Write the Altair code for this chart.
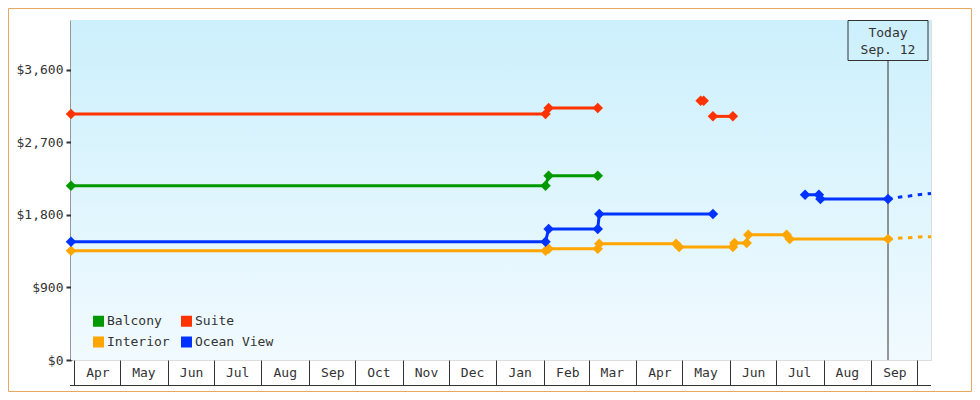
import altair as alt
import pandas as pd

FONT = "DejaVu Sans Mono"
INK = "#333333"

cabins = ["Balcony", "Suite", "Interior", "Ocean View"]
cabin_colors = ["#009900", "#ff3300", "#ffa500", "#0033ff"]

# Observed prices (segment ids break the line where data is missing)
suite_dates = ["2023-03-30", "2024-02-02", "2024-02-04", "2024-03-07",
               "2024-05-13", "2024-05-15", "2024-05-21", "2024-06-03"]
suite_prices = [3054, 3054, 3128, 3128, 3219, 3219, 3024, 3024]
suite_segments = [1, 1, 1, 1, 2, 2, 3, 3]

balcony_dates = ["2023-03-30", "2024-02-02", "2024-02-04", "2024-03-07"]
balcony_prices = [2162, 2162, 2288, 2288]
balcony_segments = [1, 1, 1, 1]

ocean_dates = ["2023-03-30", "2024-02-02", "2024-02-04", "2024-03-07", "2024-03-08", "2024-05-21",
               "2024-07-20", "2024-07-29", "2024-07-30", "2024-09-12"]
ocean_prices = [1469, 1469, 1626, 1626, 1812, 1812, 2052, 2052, 1999, 1999]
ocean_segments = [1, 1, 1, 1, 1, 1, 2, 2, 2, 2]

interior_dates = ["2023-03-30", "2024-02-02", "2024-02-04", "2024-03-07", "2024-03-08",
                  "2024-04-27", "2024-04-29", "2024-06-03", "2024-06-04", "2024-06-12",
                  "2024-06-13", "2024-07-08", "2024-07-10", "2024-09-12"]
interior_prices = [1357, 1357, 1382, 1382, 1444, 1444, 1403, 1403, 1452, 1452,
                   1555, 1555, 1502, 1502]
interior_segments = [1] * 14

# Forecast (dashed) after today
ocean_forecast_dates = ["2024-09-12", "2024-09-20", "2024-09-26", "2024-10-02", "2024-10-10"]
ocean_forecast_prices = [1999, 2023, 2036, 2052, 2066]
interior_forecast_dates = ["2024-09-12", "2024-09-20", "2024-09-26", "2024-10-02", "2024-10-10"]
interior_forecast_prices = [1502, 1514, 1518, 1527, 1531]

today_date = "2024-09-12"
today_lines = ["Today", "Sep. 12"]

y_ticks = [0, 900, 1800, 2700, 3600]
month_starts = [(2023, m) for m in range(4, 13)] + [(2024, m) for m in range(1, 11)]

rows = []
for name, ds, ps, ss in [("Balcony", balcony_dates, balcony_prices, balcony_segments),
                         ("Suite", suite_dates, suite_prices, suite_segments),
                         ("Interior", interior_dates, interior_prices, interior_segments),
                         ("Ocean View", ocean_dates, ocean_prices, ocean_segments)]:
    for d, p, s in zip(ds, ps, ss):
        rows.append({"cabin": name, "date": d, "price": p, "seg": f"{name}-{s}"})
obs = pd.DataFrame(rows)

frows = []
for name, ds, ps in [("Interior", interior_forecast_dates, interior_forecast_prices),
                     ("Ocean View", ocean_forecast_dates, ocean_forecast_prices)]:
    for d, p in zip(ds, ps):
        frows.append({"cabin": name, "date": d, "price": p})
fc = pd.DataFrame(frows)

today_df = pd.DataFrame({"date": [today_date]})

W, H = 860, 340

xscale = alt.Scale(type="utc", nice=False,
                   domain=[alt.DateTime(year=2023, month=3, date=30, utc=True),
                           alt.DateTime(year=2024, month=10, date=10, utc=True)])
yscale = alt.Scale(domain=[0, 4220], nice=False)
cscale = alt.Scale(domain=cabins, range=cabin_colors)

xaxis = alt.Axis(
    values=[alt.DateTime(year=y, month=m, date=1, utc=True) for y, m in month_starts],
    labelExpr="datum.value >= utc(2024, 9, 1) ? '' : utcFormat(datum.value, '%b')",
    tickSize=25, tickWidth=1, tickColor=INK, domain=False, grid=False,
    labelOffset=23.3, labelPadding=-12.5, labelBaseline="middle", labelAlign="center",
    labelFont=FONT, labelFontSize=13, labelColor=INK, labelFlush=False,
    labelOverlap=False, labelBound=False, title=None,
)
yaxis = alt.Axis(
    values=y_ticks, format="$,.0f", tickSize=5, tickWidth=2, tickColor=INK,
    domainColor=INK, domainWidth=2, labelPadding=3, labelFont=FONT,
    labelFontSize=13, labelColor=INK, grid=False, title=None,
)

legend = alt.Legend(
    orient="none", legendX=21, legendY=294.5, columns=2, direction="horizontal",
    symbolType="square", symbolSize=121, symbolStrokeWidth=0, symbolOpacity=1,
    symbolDash=[], labelOffset=2,
    columnPadding=10, rowPadding=7, padding=0, title=None,
    labelFont=FONT, labelFontSize=13, labelColor=INK,
)

X = alt.X("date:T", scale=xscale, axis=xaxis)
Y = alt.Y("price:Q", scale=yscale, axis=yaxis)
C = alt.Color("cabin:N", scale=cscale, legend=legend)

bg = alt.Chart(today_df).mark_rect(
    color=alt.Gradient(
        gradient="linear", x1=0, x2=0, y1=0, y2=1,
        stops=[alt.GradientStop(color="#ccf0fc", offset=0),
               alt.GradientStop(color="#f1faff", offset=1)],
    )
).encode(x=alt.value(0), x2=alt.value(W), y=alt.value(0), y2=alt.value(H))

border = alt.Chart(today_df).mark_rect(filled=False, stroke="#e8a862", strokeWidth=1).encode(
    x=alt.value(-62.5), x2=alt.value(W + 40.5), y=alt.value(-11.5), y2=alt.value(H + 31.5)
)

band_line = alt.Chart(today_df).mark_rule(color=INK, strokeWidth=1).encode(
    x=alt.value(-1), x2=alt.value(W), y=alt.value(H + 25.5)
)

today_rule = alt.Chart(today_df).mark_rule(color=INK, strokeWidth=1).encode(
    x=alt.X("date:T", scale=xscale, axis=xaxis), y=alt.value(40), y2=alt.value(H)
)

lines = alt.Chart(obs).mark_line(strokeWidth=3).encode(
    x=X, y=Y, color=C, detail="seg:N"
)

forecast = alt.Chart(fc).mark_line(strokeWidth=3, strokeDash=[4.5, 5.5]).encode(
    x=X, y=Y, color=C
)

points = alt.Chart(obs).mark_point(filled=True, shape="diamond", size=110, opacity=1).encode(
    x=X, y=Y, color=C
)

box = alt.Chart(today_df).mark_rect(filled=False, stroke=INK, strokeWidth=1,
                                    xOffset=-40, x2Offset=40).encode(
    x=alt.X("date:T", scale=xscale, axis=xaxis), x2="date:T",
    y=alt.value(0.5), y2=alt.value(40.5)
)

t1 = alt.Chart(today_df).mark_text(font=FONT, fontSize=13, color=INK, baseline="middle",
                                   align="center", text=today_lines[0]).encode(
    x=alt.X("date:T", scale=xscale, axis=xaxis), y=alt.value(12.5)
)
t2 = alt.Chart(today_df).mark_text(font=FONT, fontSize=13, color=INK, baseline="middle",
                                   align="center", text=today_lines[1]).encode(
    x=alt.X("date:T", scale=xscale, axis=xaxis), y=alt.value(30)
)

chart = alt.layer(bg, border, band_line, today_rule, lines, forecast, points, box, t1, t2).properties(
    width=W, height=H,
    padding={"left": 63, "top": 12, "right": 41, "bottom": 32},
    autosize=alt.AutoSizeParams(type="none"),
).configure_view(stroke=None).configure(background="white")

chart.save("out.html", embed_options={"renderer": "svg", "actions": False})
